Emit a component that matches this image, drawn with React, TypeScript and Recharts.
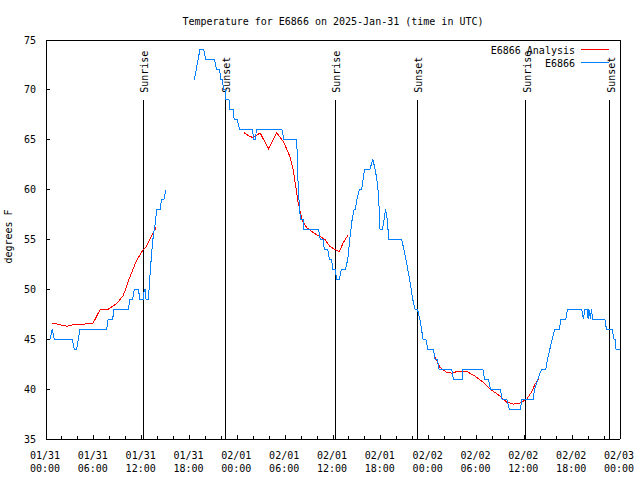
import { LineChart, Line, XAxis, YAxis, ReferenceLine } from "recharts";

const FONT = '"DejaVu Sans Mono", "Liberation Mono", monospace';

// hours since 01/31 00:00 UTC
const hourTicks = [
  0, 2, 4, 6, 8, 10, 12, 14, 16, 18, 20, 22, 24, 26, 28, 30, 32, 34, 36, 38,
  40, 42, 44, 46, 48, 50, 52, 54, 56, 58, 60, 62, 64, 66, 68, 70, 72,
];
const dayLabels = [
  "01/31", "01/31", "01/31", "01/31", "02/01", "02/01", "02/01",
  "02/01", "02/02", "02/02", "02/02", "02/02", "02/03",
];
const timeLabels = [
  "00:00", "06:00", "12:00", "18:00", "00:00", "06:00", "12:00",
  "18:00", "00:00", "06:00", "12:00", "18:00", "00:00",
];
const tempTicks = [35, 40, 45, 50, 55, 60, 65, 70, 75];

// observed temperature, [hour, degF]
const observed: [number, number | null][] = [
  [0.08, 45], [0.5, 45], [0.79, 46], [1.04, 45], [3.3, 45], [3.55, 44],
  [3.85, 44], [4.27, 46], [7.6, 46], [7.8, 47], [8.36, 47], [8.53, 48],
  [10.33, 48], [10.54, 49], [10.87, 49], [11.08, 50], [11.58, 50], [11.79, 49],
  [12.21, 49], [12.33, 50], [12.45, 50], [12.55, 49], [12.84, 49], [13.05, 51.5],
  [13.26, 53.7], [13.47, 55.5], [13.68, 56.5], [13.89, 58], [14.3, 58],
  [14.5, 59], [14.8, 59], [15.05, 60],
  [16.5, null],
  [18.6, 71], [19.3, 74], [19.8, 74], [20.05, 73], [21.15, 73], [21.4, 72],
  [21.8, 72], [21.9, 71], [22.15, 71], [22.25, 70], [22.45, 70], [22.55, 69],
  [22.95, 69], [23.05, 68], [23.5, 68], [23.6, 67], [24.0, 67], [24.3, 66],
  [25.9, 66], [26.05, 65], [26.25, 65], [26.4, 66], [29.6, 66], [29.85, 65],
  [31.45, 65], [31.6, 61], [31.8, 58], [31.95, 57], [32.25, 57], [32.35, 56],
  [34.2, 56], [34.4, 55], [34.8, 55], [34.9, 54], [35.35, 54], [35.55, 53],
  [35.8, 53], [36.0, 52], [36.3, 52], [36.45, 51], [36.8, 51], [37.05, 52],
  [37.55, 52], [37.85, 53], [38.1, 55], [38.4, 57], [38.65, 58], [38.8, 58],
  [39.0, 59], [39.3, 60], [39.6, 60], [39.9, 61.7], [40.0, 62], [40.6, 62],
  [41.0, 63], [41.3, 62], [41.6, 60.5], [41.8, 58], [41.9, 56], [42.2, 56],
  [42.4, 57], [42.6, 58], [42.8, 57], [43.0, 55], [44.6, 55], [44.9, 54],
  [45.25, 52.6], [45.7, 50.6], [46.0, 49], [46.3, 48], [46.6, 48], [46.9, 47],
  [47.1, 46], [47.3, 45], [47.65, 45], [47.9, 44], [48.6, 44], [48.8, 43],
  [49.1, 43], [49.3, 42], [50.9, 42], [51.1, 41], [52.2, 41], [52.3, 42],
  [54.8, 42], [55.0, 41], [55.5, 41], [55.75, 40], [57.0, 40], [57.2, 39],
  [57.8, 39], [58.1, 38], [59.5, 38], [59.7, 39], [61.1, 39], [61.3, 40],
  [61.7, 41], [61.9, 41.5], [62.2, 42], [62.7, 42], [62.9, 43], [63.2, 44],
  [63.5, 45], [63.8, 46], [64.4, 46], [64.6, 47], [65.2, 47], [65.4, 48],
  [67.2, 48], [67.4, 47], [67.6, 48], [67.9, 48], [68.0, 47], [68.1, 48],
  [68.3, 47], [68.4, 48], [68.6, 47], [70.1, 47], [70.3, 46], [71.0, 46],
  [71.25, 45], [71.4, 45], [71.5, 44], [72, 44],
];

// analysis temperature, [hour, degF]
const analysis: [number, number | null][] = [
  [0.79, 46.6], [1.55, 46.5], [2.6, 46.3], [3.4, 46.45], [5.3, 46.55],
  [5.9, 46.6], [6.8, 48], [7.8, 48], [8.9, 48.6], [9.7, 49.4], [10.5, 51.2],
  [11.3, 52.8], [12.2, 54], [12.6, 54.3], [13.2, 55.3], [13.8, 56.2],
  [18, null],
  [24.85, 65.7], [25.4, 65.4], [26.0, 65.2], [26.85, 65.7], [27.9, 64.1],
  [28.95, 65.7], [29.8, 64.8], [30.6, 63.3], [31.0, 62.0], [31.25, 60.7],
  [31.45, 59.7], [31.65, 58.5], [31.75, 58.3], [32.1, 57], [32.7, 56.2],
  [33.5, 55.7], [34.35, 55.3], [35.0, 55], [35.6, 54.3], [36.25, 54],
  [36.8, 53.8], [37.3, 54.7], [37.85, 55.4],
  [42, null],
  [48.8, 43.2], [49.4, 42.2], [50.2, 41.7], [50.9, 41.6], [51.7, 41.8],
  [52.75, 41.8], [53.8, 41.3], [54.8, 40.7], [55.9, 39.9], [56.95, 39.3],
  [57.8, 38.7], [58.6, 38.5], [59.45, 38.6], [60.3, 39.0], [60.9, 39.7],
  [61.35, 40.5], [61.8, 41.0],
];

const sunHours = [12.2, 22.5, 36.26, 46.55, 60.2, 70.7];
const sunNames = ["Sunrise", "Sunset", "Sunrise", "Sunset", "Sunrise", "Sunset"];

const obsData = observed.map(([h, t]) => ({ h, t }));
const anaData = analysis.map(([h, t]) => ({ h, t }));

const RED = "#ff0000";
const BLUE = "#0080ff";

function BottomTick(props: any) {
  const { x, y, payload } = props;
  const v = payload.value;
  const major = v % 6 === 0;
  const i = v / 6;
  return (
    <g>
      <line x1={x} x2={x} y1={y} y2={y - (major ? 4 : 3)} stroke="#000" />
      {major && (
        <text x={x - 1} y={y + 19.5} textAnchor="middle" fontFamily={FONT} fontSize={10} fill="#000">
          {dayLabels[i]}
        </text>
      )}
      {major && (
        <text x={x - 1} y={y + 32.5} textAnchor="middle" fontFamily={FONT} fontSize={10} fill="#000">
          {timeLabels[i]}
        </text>
      )}
    </g>
  );
}

function TopTick(props: any) {
  const { x, y, payload } = props;
  const major = payload.value % 6 === 0;
  return <line x1={x} x2={x} y1={y} y2={y + (major ? 4 : 3)} stroke="#000" />;
}

function LeftTick(props: any) {
  const { x, y, payload } = props;
  return (
    <g>
      <line x1={x} x2={x + 4} y1={y} y2={y} stroke="#000" />
      <text x={x - 10} y={y + 3.5} textAnchor="end" fontFamily={FONT} fontSize={10} fill="#000">
        {payload.value}
      </text>
    </g>
  );
}

function RightTick(props: any) {
  const { x, y } = props;
  return <line x1={x} x2={x - 4} y1={y} y2={y} stroke="#000" />;
}

export default function App() {
  return (
    <div className="chart" style={{ position: "absolute", left: 0, top: 0, width: 640, height: 480, background: "#fff" }}>
      <style>{`.chart path, .chart line { shape-rendering: crispEdges; }`}</style>
      <LineChart width={640} height={480} margin={{ top: 0, right: 0, bottom: 0, left: 0 }}>
        <XAxis
          dataKey="h"
          type="number"
          domain={[0, 72]}
          ticks={hourTicks}
          interval={0}
          tickSize={0}
          tickMargin={0}
          tickLine={false}
          height={41}
          axisLine={{ stroke: "#000" }}
          tick={<BottomTick />}
        />
        <XAxis
          xAxisId="top"
          orientation="top"
          dataKey="h"
          type="number"
          domain={[0, 72]}
          ticks={hourTicks}
          interval={0}
          tickSize={0}
          tickMargin={0}
          tickLine={false}
          height={40}
          axisLine={{ stroke: "#000" }}
          tick={<TopTick />}
        />
        <YAxis
          type="number"
          domain={[35, 75]}
          ticks={tempTicks}
          interval={0}
          width={46}
          tickSize={0}
          tickMargin={0}
          tickLine={false}
          axisLine={{ stroke: "#000" }}
          tick={<LeftTick />}
          label={(p: any) => {
            const vb = p.viewBox || { x: 0, y: 40, width: 46, height: 399 };
            const cy = vb.y + vb.height / 2;
            return (
              <text
                transform={`translate(12, ${cy - 3}) rotate(-90)`}
                textAnchor="middle"
                fontFamily={FONT}
                fontSize={10}
                fill="#000"
              >
                degrees F
              </text>
            );
          }}
        />
        <YAxis
          yAxisId="right"
          orientation="right"
          type="number"
          domain={[35, 75]}
          ticks={tempTicks}
          interval={0}
          width={20}
          tickSize={0}
          tickMargin={0}
          tickLine={false}
          axisLine={{ stroke: "#000" }}
          tick={<RightTick />}
        />
        {sunHours.map((h, i) => (
          <ReferenceLine
            key={i}
            segment={[
              { x: h, y: 69 },
              { x: h, y: 35 },
            ]}
            stroke="#000"
            strokeWidth={1}
            label={(p: any) => {
              const vb = p.viewBox;
              return (
                <text
                  transform={`translate(${vb.x + 5}, ${vb.y - 7}) rotate(-90)`}
                  textAnchor="start"
                  fontFamily={FONT}
                  fontSize={10}
                  fill="#000"
                >
                  {sunNames[i]}
                </text>
              );
            }}
          />
        ))}
        <Line
          data={anaData}
          dataKey="t"
          stroke={RED}
          strokeWidth={1}
          dot={false}
          activeDot={false}
          connectNulls={false}
          isAnimationActive={false}
          type="linear"
        />
        <Line
          data={obsData}
          dataKey="t"
          stroke={BLUE}
          strokeWidth={1}
          dot={false}
          activeDot={false}
          connectNulls={false}
          isAnimationActive={false}
          type="linear"
        />
      </LineChart>
      <svg width={640} height={480} style={{ position: "absolute", left: 0, top: 0, pointerEvents: "none" }}>
        <text x={333} y={24.5} textAnchor="middle" fontFamily={FONT} fontSize={10} fill="#000">
          Temperature for E6866 on 2025-Jan-31 (time in UTC)
        </text>
        <text x={575} y={53.8} textAnchor="end" fontFamily={FONT} fontSize={10} fill="#000">
          E6866 Analysis
        </text>
        <line x1={581} x2={609} y1={49.5} y2={49.5} stroke={RED} />
        <text x={575} y={66.8} textAnchor="end" fontFamily={FONT} fontSize={10} fill="#000">
          E6866
        </text>
        <line x1={581} x2={609} y1={62.5} y2={62.5} stroke={BLUE} />
      </svg>
    </div>
  );
}
